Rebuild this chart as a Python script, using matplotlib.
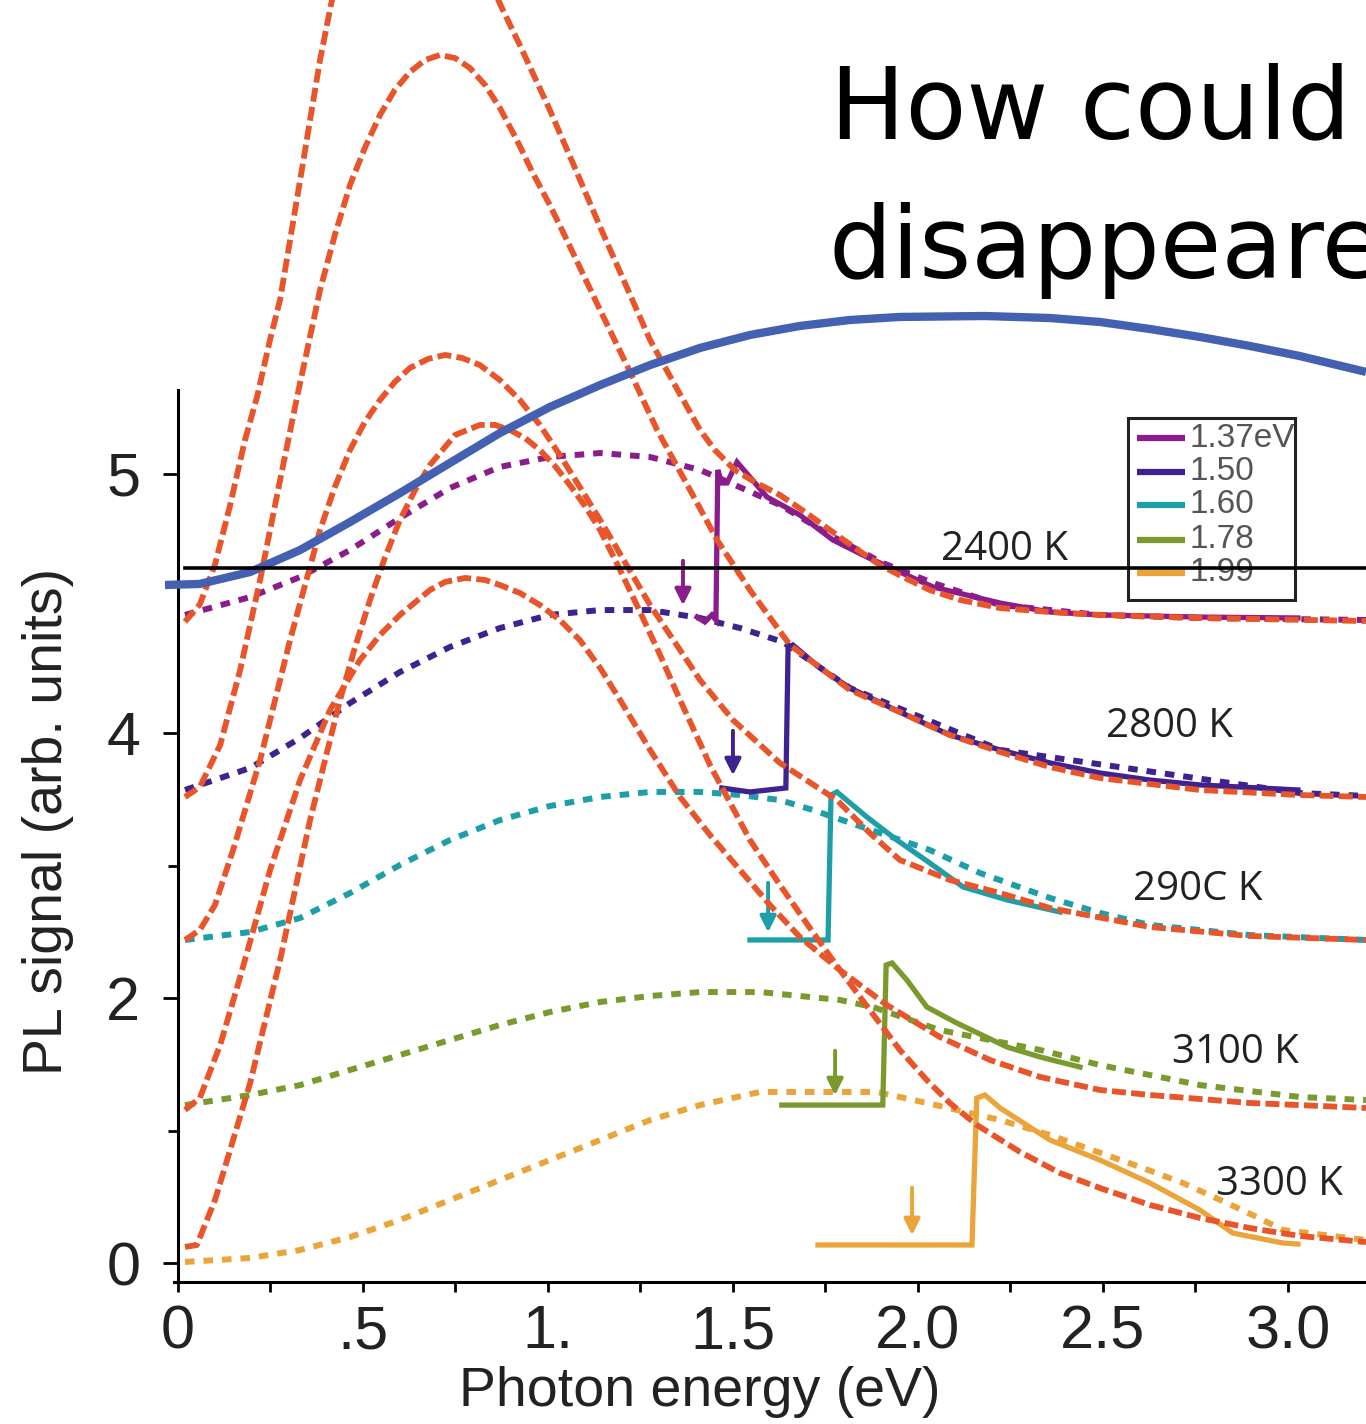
import numpy as np
import matplotlib.pyplot as plt
from matplotlib.patches import Rectangle

# ---- values (photon energy in eV, PL signal in arb. units) ----
# dashed fits (red-orange)
fit_2400_x = [0.019, 0.059, 0.100, 0.141, 0.181, 0.214, 0.249, 0.276, 0.330, 0.384, 0.416, 0.66,
              0.878, 0.924, 1.005, 1.073, 1.141, 1.208, 1.276, 1.343, 1.411, 1.451, 1.505, 1.559, 1.627,
              1.695, 1.762, 1.830, 1.897, 1.965, 2.032, 2.114, 2.222, 2.357, 2.492, 2.762, 3.211]
fit_2400_y = [4.84, 4.97, 5.27, 5.72, 6.21, 6.54, 6.97, 7.27, 8.17, 9.08, 9.53, 10.8,
              9.457, 9.192, 8.702, 8.264, 7.819, 7.396, 6.966, 6.626, 6.287, 6.136, 5.985, 5.894, 5.796,
              5.668, 5.532, 5.396, 5.268, 5.170, 5.079, 5.004, 4.943, 4.913, 4.891, 4.868, 4.845]

fit_2800_x = [0.019, 0.059, 0.114, 0.168, 0.222, 0.276, 0.322, 0.384, 0.424, 0.465, 0.505, 0.546, 0.586,
              0.627, 0.668, 0.708, 0.749, 0.789, 0.830, 0.870, 0.916, 0.959, 1.005, 1.051, 1.141, 1.222,
              1.295, 1.384, 1.457, 1.546, 1.654, 1.816, 1.951, 2.086, 2.222, 2.357, 2.492, 2.762, 3.032, 3.211]
fit_2800_y = [3.517, 3.592, 3.909, 4.475, 5.155, 5.909, 6.536, 7.343, 7.758, 8.136, 8.415, 8.664, 8.853,
              8.989, 9.079, 9.117, 9.094, 9.019, 8.891, 8.717, 8.475, 8.226, 7.985, 7.721, 7.192, 6.725,
              6.287, 5.834, 5.457, 5.079, 4.664, 4.325, 4.158, 3.985, 3.857, 3.743, 3.660, 3.570, 3.532, 3.517]

fit_2900_x = [0.019, 0.059, 0.100, 0.149, 0.222, 0.303, 0.384, 0.424, 0.465, 0.505, 0.546, 0.586, 0.627,
              0.676, 0.722, 0.768, 0.816, 0.870, 0.924, 0.978, 1.032, 1.086, 1.141, 1.276, 1.411, 1.500,
              1.627, 1.781, 1.870, 1.951, 2.086, 2.222, 2.357, 2.627, 2.897, 3.211]
fit_2900_y = [2.438, 2.513, 2.702, 3.117, 3.796, 4.702, 5.532, 5.857, 6.136, 6.347, 6.513, 6.649, 6.755,
              6.823, 6.853, 6.830, 6.777, 6.664, 6.513, 6.325, 6.098, 5.857, 5.608, 4.966, 4.400, 4.098,
              3.774, 3.494, 3.245, 3.042, 2.891, 2.792, 2.679, 2.536, 2.468, 2.438]

fit_3100_x = [0.019, 0.059, 0.114, 0.168, 0.249, 0.330, 0.411, 0.492, 0.546, 0.600, 0.681, 0.722, 0.776,
              0.830, 0.870, 0.924, 0.978, 1.032, 1.086, 1.141, 1.195, 1.276, 1.357, 1.438, 1.519, 1.600,
              1.681, 1.789, 1.916, 2.059, 2.195, 2.330, 2.492, 2.627, 2.897, 3.211]
fit_3100_y = [1.155, 1.245, 1.645, 2.158, 2.966, 3.645, 4.174, 4.551, 4.740, 4.891, 5.079, 5.140, 5.170,
              5.155, 5.117, 5.057, 4.966, 4.853, 4.702, 4.491, 4.249, 3.872, 3.517, 3.230, 2.966, 2.702,
              2.460, 2.211, 1.947, 1.706, 1.532, 1.404, 1.306, 1.268, 1.208, 1.170]

fit_3300_x = [0.019, 0.051, 0.100, 0.141, 0.195, 0.276, 0.357, 0.438, 0.478, 0.519, 0.559, 0.600, 0.641,
              0.681, 0.749, 0.816, 0.857, 0.897, 0.938, 0.978, 1.019, 1.059, 1.100, 1.141, 1.195, 1.249,
              1.303, 1.357, 1.438, 1.546, 1.627, 1.708, 1.789, 1.870, 1.951, 2.024, 2.086, 2.159, 2.276,
              2.384, 2.492, 2.627, 2.762, 2.897, 3.032, 3.211]
fit_3300_y = [0.121, 0.136, 0.475, 0.853, 1.358, 2.287, 3.343, 4.249, 4.642, 5.004, 5.321, 5.608, 5.834,
              6.023, 6.249, 6.325, 6.325, 6.287, 6.226, 6.136, 6.015, 5.872, 5.713, 5.532, 5.230, 4.913,
              4.589, 4.249, 3.758, 3.192, 2.853, 2.528, 2.211, 1.909, 1.608, 1.381, 1.208, 1.042, 0.838,
              0.679, 0.566, 0.438, 0.340, 0.264, 0.204, 0.158]

# dotted curves (one per laser energy)
dot_137_x = [0.019, 0.195, 0.330, 0.465, 0.600, 0.735, 0.870, 1.005, 1.141, 1.276, 1.411, 1.505, 1.627,
             1.762, 1.905, 2.041, 2.222, 2.492, 2.762, 3.211]
dot_137_y = [4.891, 5.026, 5.177, 5.381, 5.623, 5.849, 6.008, 6.083, 6.113, 6.083, 5.985, 5.872, 5.721,
             5.494, 5.283, 5.132, 4.966, 4.891, 4.868, 4.853]

dot_150_x = [0.019, 0.195, 0.330, 0.465, 0.600, 0.735, 0.870, 1.005, 1.141, 1.276, 1.411, 1.519, 1.635,
             1.816, 2.222, 3.032, 3.211]
dot_150_y = [3.570, 3.736, 3.962, 4.226, 4.460, 4.649, 4.792, 4.891, 4.928, 4.928, 4.868, 4.792, 4.687,
             4.340, 3.872, 3.547, 3.525]

dot_160_x = [0.019, 0.195, 0.330, 0.465, 0.600, 0.735, 0.870, 1.005, 1.141, 1.276, 1.411, 1.519, 1.627,
             1.716, 1.897, 2.032, 2.168, 2.357, 2.492, 2.627, 2.897, 3.211]
dot_160_y = [2.438, 2.498, 2.604, 2.792, 3.004, 3.192, 3.343, 3.449, 3.517, 3.555, 3.555, 3.532, 3.494,
             3.419, 3.245, 3.117, 2.943, 2.755, 2.642, 2.551, 2.475, 2.438]

dot_178_x = [0.019, 0.195, 0.330, 0.465, 0.600, 0.735, 0.870, 1.005, 1.141, 1.276, 1.411, 1.573, 1.789,
             1.878, 2.059, 2.330, 2.492, 2.762, 3.032, 3.211]
dot_178_y = [1.192, 1.268, 1.343, 1.457, 1.570, 1.683, 1.796, 1.894, 1.970, 2.015, 2.045, 2.045, 1.985,
             1.932, 1.758, 1.608, 1.494, 1.343, 1.253, 1.230]

dot_199_x = [0.019, 0.195, 0.330, 0.465, 0.600, 0.735, 0.870, 1.005, 1.141, 1.276, 1.411, 1.573, 1.889,
             2.024, 2.222, 2.357, 2.600, 2.716, 2.835, 2.916, 2.986, 3.211]
dot_199_y = [0.008, 0.038, 0.098, 0.196, 0.325, 0.475, 0.626, 0.777, 0.928, 1.079, 1.192, 1.291, 1.291,
             1.208, 1.079, 0.966, 0.725, 0.604, 0.453, 0.347, 0.249, 0.174]

# measured spectra
meas_137_x = [1.403, 1.424, 1.443, 1.454, 1.459, 1.470, 1.484, 1.511, 1.592, 1.681, 1.770, 1.862, 1.951,
              2.041, 2.222, 2.357, 2.492, 2.762, 3.027]
meas_137_y = [4.875, 4.838, 4.891, 4.853, 5.985, 5.887, 5.887, 6.045, 5.781, 5.645, 5.457, 5.328, 5.215,
              5.102, 4.981, 4.913, 4.891, 4.875, 4.868]

meas_150_x = [1.470, 1.546, 1.643, 1.649, 1.662, 1.735, 1.816, 1.951, 2.086, 2.222, 2.357, 2.492, 2.627,
              2.762, 3.027]
meas_150_y = [3.585, 3.555, 3.585, 4.642, 4.664, 4.491, 4.340, 4.158, 3.985, 3.872, 3.774, 3.698, 3.645,
              3.608, 3.570]

meas_160_x = [1.546, 1.757, 1.765, 1.781, 1.862, 1.943, 2.032, 2.122, 2.241, 2.384]
meas_160_y = [2.438, 2.438, 3.532, 3.555, 3.366, 3.192, 3.019, 2.838, 2.740, 2.649]

meas_178_x = [1.632, 1.905, 1.914, 1.930, 1.970, 2.024, 2.105, 2.241, 2.330, 2.438]
meas_178_y = [1.192, 1.192, 2.249, 2.264, 2.136, 1.932, 1.811, 1.630, 1.555, 1.479]

meas_199_x = [1.730, 2.146, 2.159, 2.181, 2.222, 2.357, 2.492, 2.627, 2.762, 2.851, 2.986, 3.027]
meas_199_y = [0.136, 0.136, 1.245, 1.268, 1.170, 0.928, 0.777, 0.604, 0.400, 0.226, 0.151, 0.143]

# laser-energy arrows
arrow_x = [1.365, 1.500, 1.595, 1.776, 1.984]
arrow_top = [5.321, 4.038, 2.891, 1.623, 0.589]
arrow_bottom = [4.943, 3.660, 2.475, 1.245, 0.189]

# temperature labels
temp_labels = ['2400 K', '2800 K', '290C K', '3100 K', '3300 K']
temp_x = [2.235, 2.681, 2.757, 2.857, 2.978]
temp_y = [5.381, 4.045, 2.815, 1.585, 0.589]

legend_labels = ['1.37eV', '1.50', '1.60', '1.78', '1.99']
legend_rows_y = [6.226, 5.970, 5.721, 5.457, 5.208]

# overlay curve and line
blue_x = [-0.035, 0.059, 0.195, 0.330, 0.465, 0.600, 0.735, 0.870, 1.005, 1.141, 1.276, 1.411, 1.546,
          1.681, 1.816, 1.951, 2.181, 2.357, 2.492, 2.627, 2.762, 2.897, 3.032, 3.211]
blue_y = [5.117, 5.125, 5.215, 5.381, 5.592, 5.811, 6.038, 6.264, 6.460, 6.626, 6.777, 6.906, 7.004,
          7.072, 7.117, 7.140, 7.147, 7.132, 7.102, 7.049, 6.989, 6.921, 6.845, 6.725]
hline_y = 5.245
hline_x = [0.019, 3.211]

xticks = [0, 0.5, 1.0, 1.5, 2.0, 2.5, 3.0]
xticklabels = ['0', '.5', '1.', '1.5', '2.0', '2.5', '3.0']
xminor = [0.25, 0.75, 1.25, 1.75, 2.25, 2.75]
yticks = [0, 2, 4, 5.955]
yticklabels = ['0', '2', '4', '5']
yminor = [1, 3]

colors = ['#8a1c8c', '#3e2290', '#1e9fa8', '#7a9a2e', '#eaa43a']
red = '#e8552b'
blue = '#4361b0'

fits = [(fit_2400_x, fit_2400_y), (fit_2800_x, fit_2800_y), (fit_2900_x, fit_2900_y),
        (fit_3100_x, fit_3100_y), (fit_3300_x, fit_3300_y)]
dots = [(dot_137_x, dot_137_y), (dot_150_x, dot_150_y), (dot_160_x, dot_160_y),
        (dot_178_x, dot_178_y), (dot_199_x, dot_199_y)]
meas = [(meas_137_x, meas_137_y), (meas_150_x, meas_150_y), (meas_160_x, meas_160_y),
        (meas_178_x, meas_178_y), (meas_199_x, meas_199_y)]

tickfont = ['Liberation Sans', 'DejaVu Sans']

fig = plt.figure(figsize=(13.66, 14.24), dpi=100)
ax = fig.add_axes([0, 0, 1, 1])
ax.set_xlim(-0.481, 3.211)
ax.set_ylim(-1.215, 9.532)
ax.patch.set_alpha(0)

for s in ['top', 'right']:
    ax.spines[s].set_visible(False)
ax.spines['left'].set_position(('data', 0))
ax.spines['bottom'].set_position(('data', -0.143))
ax.spines['left'].set_bounds(-0.143, 6.589)
ax.spines['bottom'].set_bounds(-0.012, 3.211)
ax.spines['left'].set_linewidth(2.2)
ax.spines['bottom'].set_linewidth(2.2)

ax.set_xticks(xticks)
ax.set_xticklabels(xticklabels)
ax.set_xticks(xminor, minor=True)
ax.set_yticks(yticks)
ax.set_yticklabels(yticklabels)
ax.set_yticks(yminor, minor=True)
ax.tick_params(axis='x', which='both', direction='out', length=7, width=2, pad=9, labelsize=44)
ax.tick_params(axis='y', which='major', direction='out', length=11, width=2, pad=16, labelsize=44)
ax.tick_params(axis='y', which='minor', direction='out', length=7, width=2)
for lab in ax.get_xticklabels() + ax.get_yticklabels():
    lab.set_fontfamily(tickfont)
    lab.set_color('#222222')

# dotted curves
for (x, y), c in zip(dots, colors):
    ax.plot(x, y, color=c, lw=4.3, dashes=(1.6, 1.5), zorder=2)

# measured spectra
for (x, y), c in zip(meas, colors):
    ax.plot(x, y, color=c, lw=3.8, zorder=3, solid_joinstyle='miter')

# arrows
for xa, yt, yb, c in zip(arrow_x, arrow_top, arrow_bottom, colors):
    ax.annotate('', xy=(xa, yb), xytext=(xa, yt),
                arrowprops=dict(arrowstyle='-|>', color=c, lw=2.8, mutation_scale=24), zorder=3)

# dashed fits
for x, y in fits:
    ax.plot(x, y, color=red, lw=4.2, dashes=(2.4, 0.9), zorder=4)

# temperature labels
for t, x, y in zip(temp_labels, temp_x, temp_y):
    ax.text(x, y, t, ha='center', va='center', fontsize=29, family='Open Sans', color='#222222', zorder=5)

# legend box
ax.add_patch(Rectangle((2.568, 5.004), 0.451, 1.373, facecolor='white', edgecolor='#222222',
                       lw=2.2, zorder=6))
for lab, yr, c in zip(legend_labels, legend_rows_y, colors):
    ax.plot([2.592, 2.722], [yr, yr], color=c, lw=4.5, solid_capstyle='butt', zorder=7)
    ax.text(2.735, yr, lab, ha='left', va='center', fontsize=24, family=tickfont,
            color='#555555', zorder=7)

# overlay curve and horizontal line
ax.plot(blue_x, blue_y, color=blue, lw=6, solid_capstyle='butt', zorder=8)
ax.plot(hline_x, [hline_y, hline_y], color='black', lw=2.6, zorder=9)

# axis titles
ax.text(-0.351, 3.33, 'PL signal (arb. units)', rotation=90, ha='center', va='center',
        fontsize=40, family='Liberation Sans', color='#222222')
ax.text(1.411, -0.974, 'Photon energy (eV)', ha='center', va='center',
        fontsize=40, family='Liberation Sans', color='#222222')

# overlaid question text
ax.text(1.762, 8.491, 'How could', ha='left', va='baseline', fontsize=72, family='DejaVu Sans',
        color='black', zorder=10)
ax.text(1.757, 7.434, 'disappeare', ha='left', va='baseline', fontsize=72, family='DejaVu Sans',
        color='black', zorder=10)

fig.savefig('out.png', dpi=100)
